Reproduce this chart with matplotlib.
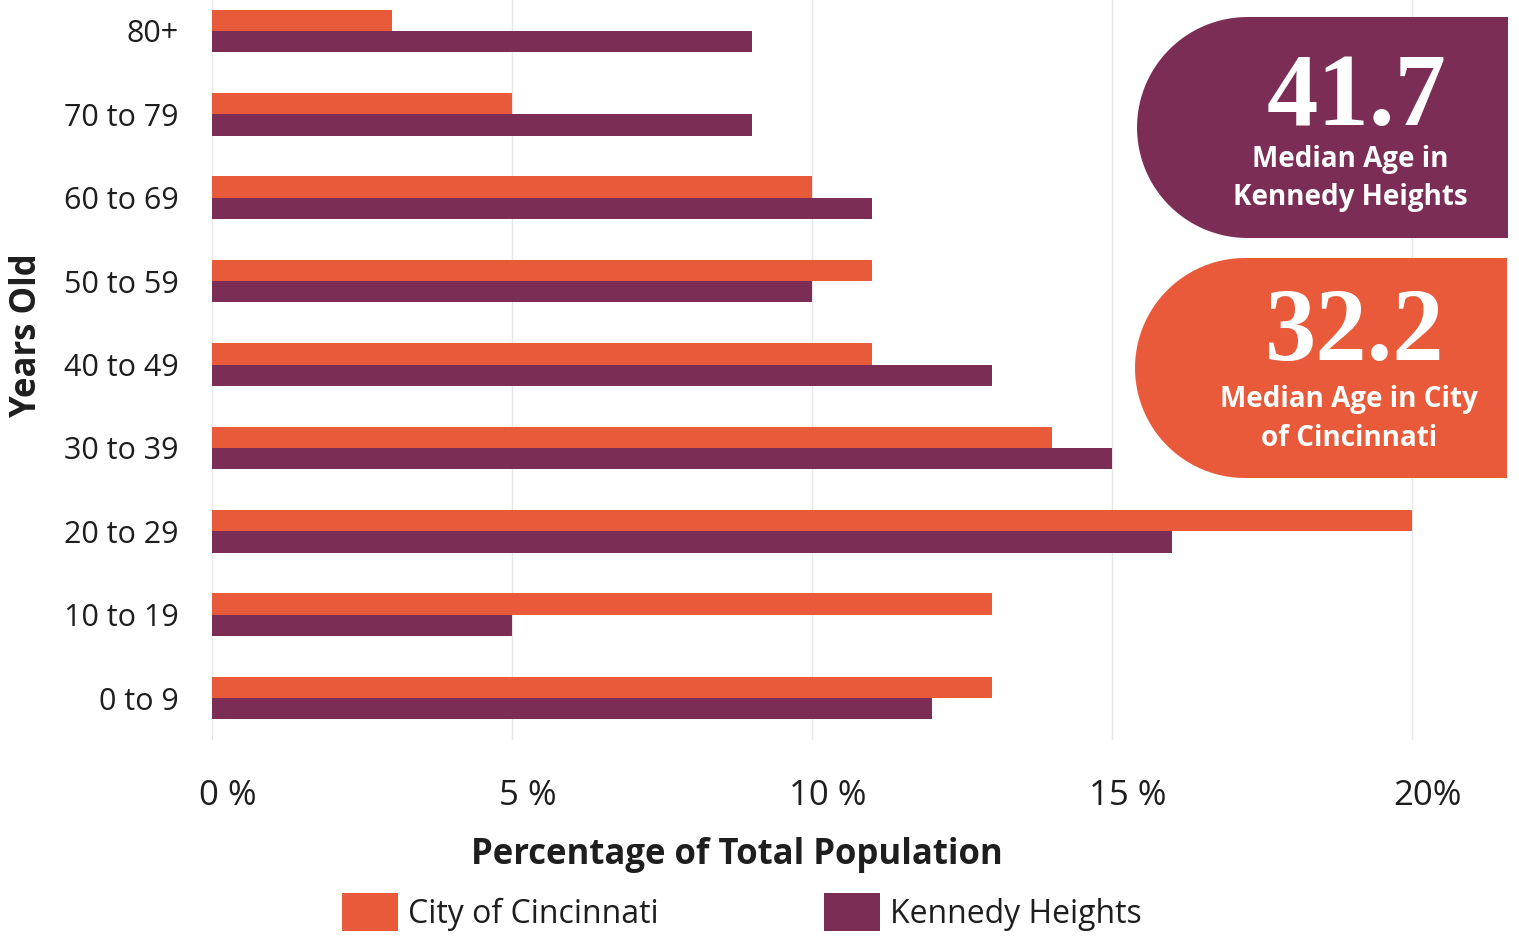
import matplotlib
matplotlib.use("Agg")
import matplotlib.pyplot as plt
import matplotlib.transforms as mtransforms
from matplotlib.path import Path
from matplotlib.patches import PathPatch
import numpy as np

categories = ["0 to 9", "10 to 19", "20 to 29", "30 to 39", "40 to 49",
              "50 to 59", "60 to 69", "70 to 79", "80+"]
cincinnati = [13, 13, 20, 14, 11, 11, 10, 5, 3]
kennedy = [12, 5, 16, 15, 13, 10, 11, 9, 9]
xticks = [0, 5, 10, 15, 20]
xtick_labels = ["0 %", "5 %", "10 %", "15 %", "20%"]
series_names = ["City of Cincinnati", "Kennedy Heights"]
median_kh = "41.7"
median_city = "32.2"

ORANGE = "#E85A3A"
PURPLE = "#7B2D56"
TEXT = "#1e1e1e"

W, H = 1519, 936
fig = plt.figure(figsize=(W / 100, H / 100), dpi=100)
fig.patch.set_facecolor("white")

px_per_cat = 83.4
ax_left, ax_right = 212, 1510
ax_top_px, ax_bot_px = 0, 740
ax = fig.add_axes([ax_left / W, 1 - ax_bot_px / H, (ax_right - ax_left) / W,
                   (ax_bot_px - ax_top_px) / H])
ax.set_xlim(0, (ax_right - ax_left) / 60.0)
ax.set_ylim(-42 / px_per_cat, 8 + 31 / px_per_cat)

y = np.arange(len(categories))
bh = 0.255
ax.barh(y + bh / 2, cincinnati, height=bh, color=ORANGE, label=series_names[0], zorder=3)
ax.barh(y - bh / 2, kennedy, height=bh, color=PURPLE, label=series_names[1], zorder=3)

for s in ax.spines.values():
    s.set_visible(False)
ax.set_xticks(xticks)
ax.set_xticklabels(xtick_labels, fontsize=25, color=TEXT, family="Open Sans")
ax.tick_params(axis="x", length=0, pad=28)
offset = mtransforms.ScaledTranslation(0.16, 0, fig.dpi_scale_trans)
for lab in ax.get_xticklabels():
    lab.set_transform(lab.get_transform() + offset)
ax.set_yticks(y)
ax.set_yticklabels(categories, fontsize=22, color=TEXT, family="Open Sans")
ax.tick_params(axis="y", length=0, pad=24)
ax.grid(axis="x", color="#e6e6e6", linewidth=1, zorder=0)

ax.set_xlabel("Percentage of Total Population", fontsize=25, fontweight="bold",
              color=TEXT, family="Open Sans")
ax.xaxis.set_label_coords((737 - ax_left) / (ax_right - ax_left), -(855 - ax_bot_px) / (ax_bot_px - ax_top_px),
                          transform=ax.transAxes)
ax.xaxis.label.set_va("center")
fig.text(27 / W, 1 - 335 / H, "Years Old", rotation=90, fontsize=25, fontweight="bold",
         color=TEXT, family="Open Sans", ha="center", va="center")

leg = fig.legend(loc="center", bbox_to_anchor=(742 / W, 1 - 912 / H), ncol=2,
                 frameon=False, handlelength=1.75, handleheight=1.45,
                 columnspacing=5.2, handletextpad=0.3, prop={"family": "Open Sans", "size": 23})
for t in leg.get_texts():
    t.set_color(TEXT)

# overlay in pixel coordinates for badges
ov = fig.add_axes([0, 0, 1, 1], facecolor="none")
ov.set_xlim(0, W)
ov.set_ylim(H, 0)
ov.axis("off")


def badge(x0, x1, y0, y1, color):
    r = (y1 - y0) / 2
    cy = (y0 + y1) / 2
    th = np.linspace(np.pi / 2, 3 * np.pi / 2, 60)
    cx = x0 + r
    arc = [(cx + r * np.cos(t), cy - r * np.sin(t)) for t in th]
    verts = [(x1, y0)] + arc + [(x1, y1), (x1, y0)]
    codes = [Path.MOVETO] + [Path.LINETO] * (len(verts) - 2) + [Path.CLOSEPOLY]
    ov.add_patch(PathPatch(Path(verts, codes), facecolor=color, edgecolor="none"))


badge(1137, 1508, 17, 238, PURPLE)
badge(1135, 1507, 258, 478, ORANGE)

ov.text(1357, 100, median_kh, fontsize=74, fontweight="bold", family="Liberation Serif",
        color="white", ha="center", va="center")
ov.text(1350, 160, "Median Age in", fontsize=20, fontweight="bold", family="Open Sans",
        color="white", ha="center", va="center")
ov.text(1350, 198, "Kennedy Heights", fontsize=20, fontweight="bold", family="Open Sans",
        color="white", ha="center", va="center")
ov.text(1355, 335, median_city, fontsize=74, fontweight="bold", family="Liberation Serif",
        color="white", ha="center", va="center")
ov.text(1349, 400, "Median Age in City", fontsize=20, fontweight="bold", family="Open Sans",
        color="white", ha="center", va="center")
ov.text(1349, 438, "of Cincinnati", fontsize=20, fontweight="bold", family="Open Sans",
        color="white", ha="center", va="center")

fig.savefig("out.png", dpi=100, facecolor="white")
